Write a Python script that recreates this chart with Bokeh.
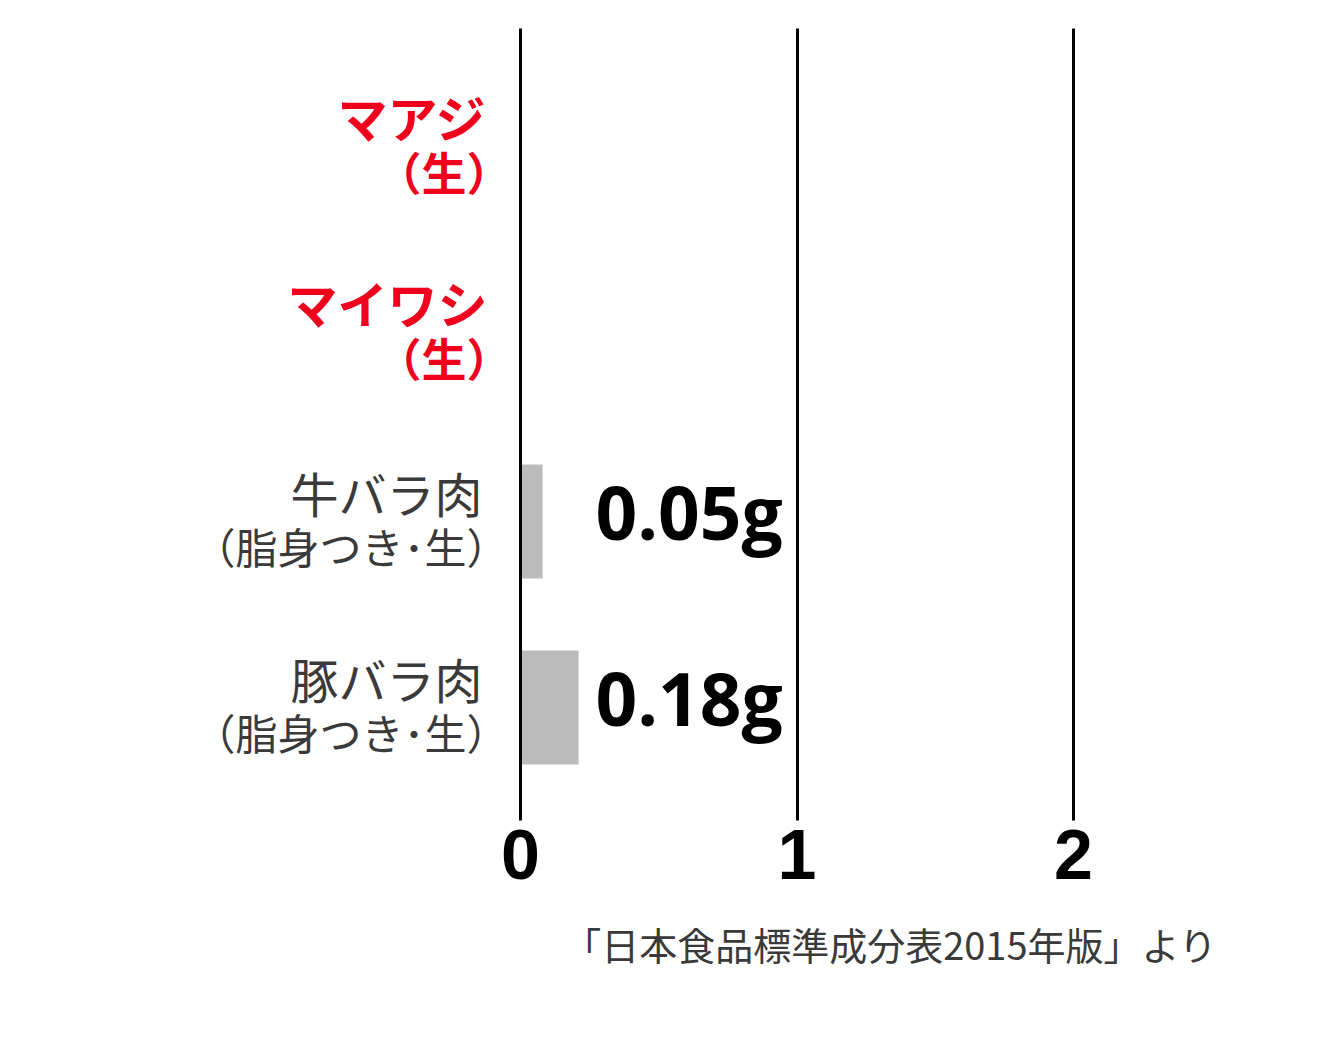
from bokeh.plotting import figure
from bokeh.models import ColumnDataSource, Range1d, FixedTicker, Title
from bokeh.core.properties import value
from bokeh.embed import file_html
from bokeh.resources import INLINE

# ---- data ----
names_line1 = ["マアジ", "マイワシ", "牛バラ肉", "豚バラ肉"]
names_line2 = ["（生）", "（生）", "（脂身つき･生）", "（脂身つき･生）"]
groups = ["fish", "fish", "meat", "meat"]
bar_lengths = [0.0, 0.0, 0.08, 0.21]          # bar lengths as drawn in the picture
value_labels = ["", "", "0.05g", "0.18g"]
x_ticks = [0, 1, 2]
source_note = "「日本食品標準成分表2015年版」より"

rows = list(range(len(names_line1)))

# ---- styles ----
group_color = {"fish": "#f0001c", "meat": "#3a3a3a"}
line1_shift = {"fish": -0.177, "meat": -0.156}
line2_shift = {"fish": 0.119, "meat": 0.129}

src = ColumnDataSource(dict(
    y=rows,
    y1=[r + line1_shift[g] for r, g in zip(rows, groups)],
    y2=[r + line2_shift[g] for r, g in zip(rows, groups)],
    yv=[r - 0.055 for r in rows],
    l1=names_line1,
    l2=names_line2,
    col=[group_color[g] for g in groups],
    right=bar_lengths,
    vlab=value_labels,
))
fish_idx = [i for i, g in enumerate(groups) if g == "fish"]
meat_idx = [i for i, g in enumerate(groups) if g == "meat"]

def sub(idx):
    return ColumnDataSource({k: [v[i] for i in idx] for k, v in src.data.items()})

src_fish = sub(fish_idx)
src_meat = sub(meat_idx)

px_per_unit = 276.5
p = figure(
    width=1324, height=1022,
    x_range=Range1d((0 - 520) / px_per_unit, (1324 - 520) / px_per_unit),
    y_range=Range1d(3.608, -0.65),
    output_backend="svg", toolbar_location=None,
    min_border_left=0, min_border_right=0, min_border_top=28, min_border_bottom=202,
    y_axis_location=None,
)
p.outline_line_color = None
p.background_fill_color = "white"
p.border_fill_color = "white"

# grid
p.xgrid.ticker = FixedTicker(ticks=x_ticks)
p.xgrid.grid_line_color = "black"
p.xgrid.grid_line_width = 3
p.xgrid.level = "overlay"
p.ygrid.visible = False

# x axis
ax = p.xaxis[0]
ax.ticker = FixedTicker(ticks=x_ticks)
ax.axis_line_color = None
ax.major_tick_line_color = None
ax.minor_tick_line_color = None
ax.major_label_text_font = "Liberation Sans"
ax.major_label_text_font_style = "bold"
ax.major_label_text_font_size = "70px"
ax.major_label_text_color = "black"
ax.major_label_standoff = 3

# bars
p.hbar(y="y", left=0, right="right", height=0.613, source=src,
       fill_color="#bbbbbb", line_color=None)

# category labels: fish (bold red)
p.text(x=0, y="y1", text="l1", source=src_fish, x_offset=-33,
       text_align="right", text_baseline="middle",
       text_font=value("Noto Sans CJK JP"), text_font_size="50px",
       text_color="col", text_font_style="bold")
p.text(x=0, y="y2", text="l2", source=src_fish, x_offset=-9,
       text_align="right", text_baseline="middle",
       text_font=value("Noto Sans CJK JP"), text_font_size="45px",
       text_color="col", text_font_style="bold")
# category labels: meat (regular dark grey)
p.text(x=0, y="y1", text="l1", source=src_meat, x_offset=-38,
       text_align="right", text_baseline="middle",
       text_font=value("Noto Sans CJK JP"), text_font_size="48px",
       text_color="col", text_font_style="normal")
p.text(x=0, y="y2", text="l2", source=src_meat, x_offset=-12,
       text_align="right", text_baseline="middle",
       text_font=value("Noto Sans CJK JP"), text_font_size="42px",
       text_color="col", text_font_style="normal")

# value labels
p.text(x=0, y="yv", text="vlab", source=src, x_offset=75,
       text_align="left", text_baseline="middle",
       text_font=value("Open Sans"), text_font_size="73px",
       text_color="black", text_font_style="bold")

# source note
p.add_layout(Title(text=source_note, align="right", offset=107,
                   text_font="Noto Sans CJK JP", text_font_size="38px",
                   text_font_style="normal", text_color="#3a3a3a",
                   standoff=64), "below")

open("out.html", "w").write(file_html(p, INLINE))
